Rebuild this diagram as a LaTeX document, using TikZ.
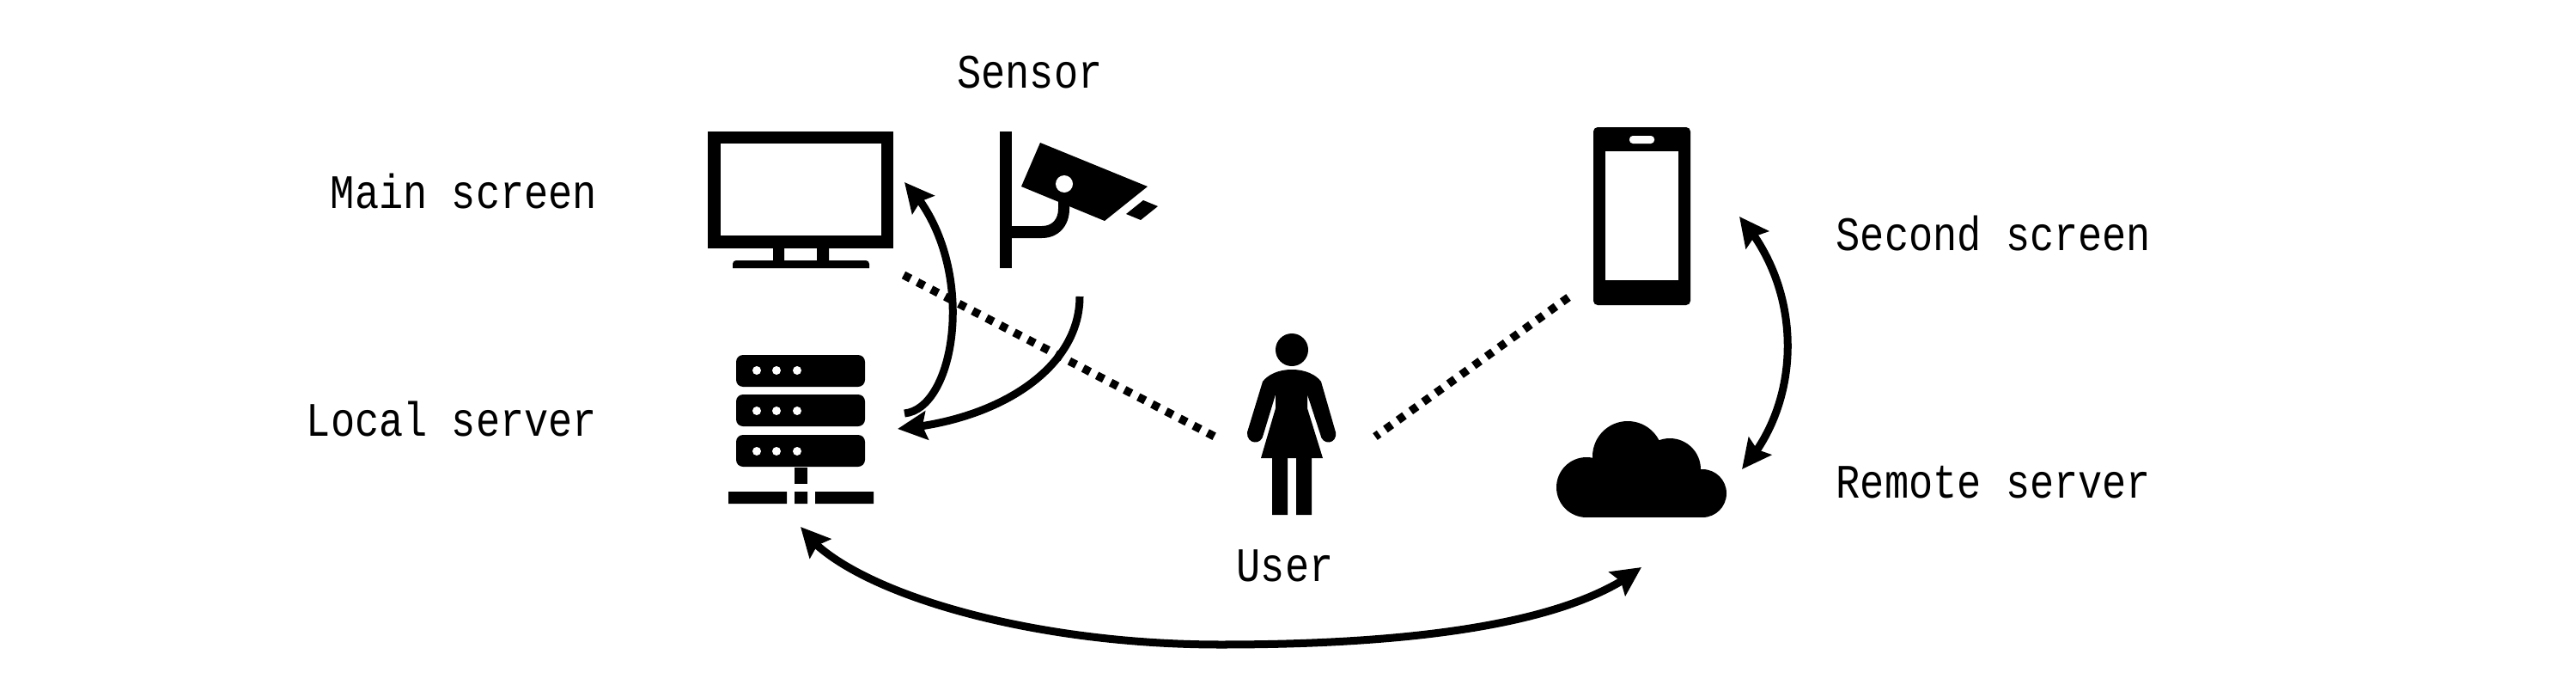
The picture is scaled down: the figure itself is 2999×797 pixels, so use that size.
\documentclass[tikz,border=0pt]{standalone}
\usepackage{fontspec}
\setmonofont[FakeStretch=0.84]{Liberation Mono}
\usetikzlibrary{arrows.meta,bending}
\tikzset{
	label/.style={font=\ttfamily\fontsize{15.9}{18}\selectfont,anchor=base,inner sep=0pt},
	icon/.style={fill=black,draw=none},
	hole/.style={fill=white,draw=none},
	dataflow/.style={line width=0.09cm,draw=black},
	tipped/.style={dataflow,-{Stealth[length=0.34cm,width=0.33cm,inset=0.05cm,flex]}},
	bothtipped/.style={dataflow,{Stealth[length=0.34cm,width=0.33cm,inset=0.05cm,flex]}-{Stealth[length=0.34cm,width=0.33cm,inset=0.05cm,flex]}},
	viewing/.style={line width=0.095cm,draw=black,dash pattern=on 0.09cm off 0.091cm}
}
\begin{document}
\begin{tikzpicture}[x=0.01cm,y=-0.01cm]
	\useasboundingbox (0,0) rectangle (2999,797);
	% main screen
	\fill[icon] (824,153) rectangle (1040,289);
	\fill[hole] (839,167) rectangle (1026,274);
	\fill[icon] (900,289) rectangle (913,303) (951,289) rectangle (965,303);
	\fill[icon] (853,312) [rounded corners=0.04cm] -- (853,303) -- (1012,303) [sharp corners] -- (1012,312) -- cycle;
	% sensor
	\fill[icon] (1164,153) rectangle (1178,312);
	\fill[icon] (1178,263) -- (1213,263) .. controls (1225,263) and (1232,255) .. (1232,243) -- (1232,230) -- (1245,230) -- (1245,243) .. controls (1245,263) and (1232,277) .. (1213,277) -- (1178,277) -- cycle;
	\fill[icon] (1211,166) -- (1336,217) -- (1286,257) -- (1189,217) -- cycle;
	\fill[hole] (1239,214) circle[radius=10];
	\fill[icon] (1331,233) -- (1348,240) -- (1328,256) -- (1311,249) -- cycle;
	% local server
	\foreach \rowtop/\rowdots in {413/431,459/478,506/525}{
		\fill[icon,rounded corners=0.08cm] (857,\rowtop) rectangle (1007,\rowtop+37);
		\foreach \dotx in {881,904,928}
			\fill[hole] (\dotx,\rowdots) circle[radius=5];
	}
	\fill[icon] (925,544) rectangle (940,563);
	\fill[icon] (848,572) rectangle (916,586) (925,572) rectangle (940,586) (949,572) rectangle (1017,586);
	% user
	\fill[icon] (1504,407) circle[radius=19];
	\fill[icon] (1504,430) .. controls (1488,430) and (1476,436) .. (1470,444) -- (1452,503) .. controls (1451,517) and (1469,519) .. (1471,505) -- (1485,459) -- (1485,475) -- (1468,533) -- (1540,533) -- (1522,475) -- (1522,459) -- (1537,505) .. controls (1539,519) and (1557,517) .. (1555,503) -- (1538,444) .. controls (1532,436) and (1520,430) .. (1504,430) -- cycle;
	\fill[icon] (1481,533) rectangle (1499,599) (1509,533) rectangle (1527,599);
	% second screen
	\fill[icon,rounded corners=0.05cm] (1855,148) rectangle (1968,355);
	\fill[hole] (1869,176) rectangle (1954,326);
	\fill[hole,rounded corners=0.04cm] (1897,158) rectangle (1926,167);
	% remote server
	\fill[icon] (1847,567) circle[radius=35] (1895,531) circle[radius=41] (1944,546) circle[radius=36] (1982,574) circle[radius=28];
	\fill[icon] (1847,560) rectangle (1982,602);
	% labels
	\node[label] (mainlabel) at (540,242) {Main screen};
	\node[label] (locallabel) at (526,507) {Local server};
	\node[label] (sensorlabel) at (1199,103) {Sensor};
	\node[label] (userlabel) at (1496,676) {User};
	\node[label] (secondlabel) at (2321,291) {Second screen};
	\node[label] (remotelabel) at (2321,579) {Remote server};
	% ends of the connectors
	\coordinate (screenview) at (1052,320);
	\coordinate (phoneview) at (1826,346);
	\coordinate (userleft) at (1420,511);
	\coordinate (userright) at (1601,508);
	\coordinate (localout) at (1053,481);
	\coordinate (screenin) at (1053,212);
	\coordinate (sensorout) at (1257,345);
	\coordinate (localin) at (1045,499);
	\coordinate (phoneend) at (2025,252);
	\coordinate (cloudend) at (2028,546);
	\coordinate (localend) at (932,613);
	\coordinate (bottomarc) at (1421,750);
	\coordinate (cloudlow) at (1911,660);
	% connectors
	\draw[viewing] (screenview) -- (userleft);
	\draw[viewing] (phoneview) -- (userright);
	\draw[tipped] (localout) .. controls (1115,475) and (1140,300) .. (screenin);
	\draw[tipped] (sensorout) .. controls (1257,430) and (1160,490) .. (localin);
	\draw[bothtipped] (phoneend) .. controls (2102,340) and (2097,470) .. (cloudend);
	\draw[bothtipped] (localend) .. controls (980,685) and (1190,750) .. (bottomarc) .. controls (1650,750) and (1830,725) .. (cloudlow);
\end{tikzpicture}
\end{document}
